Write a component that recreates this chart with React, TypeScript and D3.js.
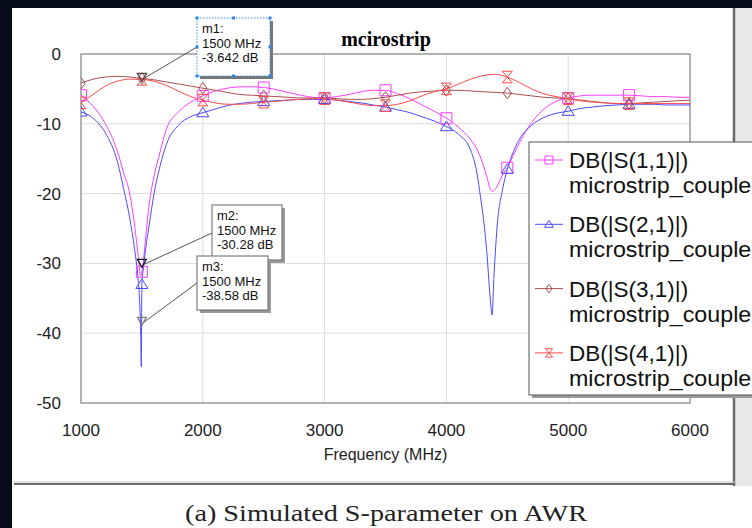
import React from "react";
import * as d3 from "d3";

const xTicks = [1000, 2000, 3000, 4000, 5000, 6000];
const yTicks = [0, -10, -20, -30, -40, -50];

const freqS11 = [1000,1100,1200,1300,1350,1400,1440,1470,1490,1500,1510,1530,1560,1600,1650,1700,1800,1900,2000,2100,2200,2300,2400,2500,2600,2700,2800,2900,3000,3100,3200,3300,3400,3500,3600,3700,3800,3900,4000,4100,4200,4250,4300,4330,4360,4380,4400,4430,4470,4500,4550,4600,4700,4800,4900,5000,5100,5200,5300,5400,5500,5600,5700,5800,5900,6000];
const s11 = [-5.9,-7.5,-10,-14,-17,-20,-24.5,-29,-31.8,-31.2,-30,-26.5,-21.5,-17.5,-14,-10.8,-8.3,-6.9,-6.0,-5.3,-4.9,-4.7,-4.7,-4.8,-5.1,-5.5,-5.9,-6.2,-6.3,-6.1,-5.8,-5.4,-5.2,-5.2,-5.7,-6.4,-7.3,-8.2,-9.2,-10.5,-12.3,-13.6,-15.8,-17.5,-19.3,-19.7,-19.4,-18.5,-17,-16.3,-14.5,-12.7,-9.8,-7.9,-6.8,-6.3,-6.0,-5.9,-5.9,-5.9,-5.9,-6.0,-6.1,-6.1,-6.2,-6.2];

const freqS21 = [1000,1100,1200,1300,1350,1400,1440,1470,1480,1490,1495,1500,1510,1530,1560,1600,1650,1700,1800,1900,2000,2100,2200,2300,2400,2500,2600,2700,2800,2900,3000,3100,3200,3300,3400,3500,3600,3700,3800,3900,4000,4100,4200,4250,4280,4300,4330,4360,4375,4390,4420,4460,4500,4550,4600,4700,4800,4900,5000,5100,5200,5300,5400,5500,5600,5700,5800,5900,6000];
const s21 = [-8.3,-9.2,-11.3,-15.5,-19.3,-23.5,-28,-32.5,-35,-40,-44.8,-33,-31,-28,-24.5,-20,-16,-13,-10.2,-9.0,-8.4,-7.9,-7.4,-7.1,-6.9,-6.8,-6.7,-6.6,-6.5,-6.5,-6.5,-6.6,-6.8,-7.0,-7.3,-7.6,-8.0,-8.4,-9.0,-9.6,-10.4,-11.5,-13.8,-17,-20.5,-23,-28,-35,-37.4,-32,-24,-19.5,-16.5,-14,-12.2,-10.2,-9.1,-8.5,-8.2,-7.8,-7.6,-7.4,-7.3,-7.2,-7.2,-7.2,-7.3,-7.3,-7.3];

const freqCoarse = [1000,1100,1200,1300,1400,1500,1600,1700,1800,1900,2000,2100,2200,2300,2400,2500,2600,2700,2800,2900,3000,3100,3200,3300,3400,3500,3600,3700,3800,3900,4000,4100,4200,4300,4400,4500,4600,4700,4800,4900,5000,5100,5200,5300,5400,5500,5600,5700,5800,5900,6000];
const s31 = [-4.2,-3.6,-3.3,-3.2,-3.3,-3.5,-3.7,-4.0,-4.3,-4.6,-4.9,-5.2,-5.5,-5.8,-5.9,-6.0,-6.1,-6.2,-6.3,-6.3,-6.3,-6.4,-6.5,-6.5,-6.4,-6.2,-5.9,-5.6,-5.4,-5.3,-5.2,-5.2,-5.3,-5.4,-5.5,-5.6,-5.8,-6.0,-6.2,-6.3,-6.4,-6.6,-6.8,-7.0,-7.1,-7.1,-7.0,-6.9,-6.8,-6.7,-6.6];
const s41 = [-7.0,-5.8,-4.6,-3.9,-3.6,-3.64,-3.9,-4.5,-5.3,-6.1,-6.6,-7.0,-7.2,-7.2,-7.1,-6.9,-6.8,-6.6,-6.5,-6.4,-6.4,-6.6,-6.9,-7.2,-7.4,-7.4,-7.2,-6.7,-6.0,-5.4,-5.0,-4.3,-3.6,-3.1,-2.9,-3.3,-4.1,-5.0,-5.7,-6.1,-6.4,-6.7,-6.9,-7.0,-7.1,-7.1,-7.1,-7.1,-7.1,-7.1,-7.1];

const markerFreqs = [1000,1500,2000,2500,3000,3500,4000,4500,5000,5500];

const seriesNames = ["DB(|S(1,1)|)", "DB(|S(2,1)|)", "DB(|S(3,1)|)", "DB(|S(4,1)|)"];
const seriesSub = "microstrip_coupler";
const seriesColors = ["#ff3cff", "#4a4aff", "#a8504e", "#ff4a4a"];
const seriesShapes = ["square", "triangle", "diamond", "bowtie"];

const markerNames = ["m1", "m2", "m3"];
const markerFreq = [1500, 1500, 1500];
const markerDb = [-3.642, -30.28, -38.58];

const W = 752, H = 528;
const PL = 81, PR = 690, PT = 54, PB = 403;

function shapePath(shape: string, x: number, y: number, s: number) {
  if (shape === "square") return `M${x - s},${y - s}H${x + s}V${y + s}H${x - s}Z`;
  if (shape === "triangle") return `M${x},${y - s}L${x + s * 1.1},${y + s * 0.75}H${x - s * 1.1}Z`;
  if (shape === "diamond") return `M${x},${y - s * 1.05}L${x + s * 0.75},${y}L${x},${y + s * 1.05}L${x - s * 0.75},${y}Z`;
  return `M${x - s * 0.9},${y - s * 1.05}H${x + s * 0.9}L${x - s * 0.9},${y + s * 1.05}H${x + s * 0.9}Z`;
}

export default function App() {
  const x = d3.scaleLinear().domain([1000, 6000]).range([PL, PR]);
  const y = d3.scaleLinear().domain([-50, 0]).range([PB, PT]);
  const line = d3
    .line<[number, number]>()
    .x((d) => x(d[0]))
    .y((d) => y(d[1]))
    .curve(d3.curveMonotoneX);

  const series: [number, number][][] = [
    freqS11.map((f, i) => [f, s11[i]]),
    freqS21.map((f, i) => [f, s21[i]]),
    freqCoarse.map((f, i) => [f, s31[i]]),
    freqCoarse.map((f, i) => [f, s41[i]]),
  ];

  const sans = "'Liberation Sans', Arial, sans-serif";
  const serif = "'Liberation Serif', 'Times New Roman', serif";

  const boxes = [
    { bx: 197, by: 18, bw: 73, bh: 58, lx: 197, ly: 47, selected: true },
    { bx: 212, by: 205, bw: 70, bh: 55, lx: 212, ly: 233, selected: false },
    { bx: 197, by: 256, bw: 71, bh: 54, lx: 197, ly: 283, selected: false },
  ];
  const mColors = ["#444", "#111", "#777"];

  const legendY0 = 160;
  const legendDy = 64.3;

  return (
    <svg width={W} height={H} style={{ position: "fixed", left: 0, top: 0 }}>
      <defs>
        <clipPath id="plotClip">
          <rect x={PL} y={PT} width={PR - PL} height={PB - PT} />
        </clipPath>
      </defs>
      <rect x={0} y={0} width={W} height={H} fill="#060b1a" />
      <rect x={12} y={8} width={W - 12} height={H - 8} fill="#ffffff" />
      {/* right grey strip and window frame */}
      <rect x={735} y={8} width={17} height={478} fill="#e8e8e8" />
      <line x1={734} y1={8} x2={734} y2={486} stroke="#6a6a6a" strokeWidth={2.5} />
      <line x1={14} y1={482} x2={735} y2={482} stroke="#c8c8c8" strokeWidth={1} />
      <line x1={14} y1={484} x2={735} y2={484} stroke="#6a6a6a" strokeWidth={2.2} />

      {/* title */}
      <text x={386} y={46} textAnchor="middle" fontFamily={serif} fontWeight="bold" fontSize={20} fill="#000">
        mcirostrip
      </text>

      {/* grid */}
      {xTicks.slice(1, -1).map((t) => (
        <line key={"gx" + t} x1={x(t)} x2={x(t)} y1={PT} y2={PB} stroke="#dcdcdc" strokeWidth={1} />
      ))}
      {yTicks.slice(1, -1).map((t) => (
        <line key={"gy" + t} x1={PL} x2={PR} y1={y(t)} y2={y(t)} stroke="#dcdcdc" strokeWidth={1} />
      ))}
      <rect x={PL} y={PT} width={PR - PL} height={PB - PT} fill="none" stroke="#9a9a9a" strokeWidth={1.5} />

      {/* tick labels */}
      {yTicks.map((t) => (
        <text key={"yl" + t} x={61} y={y(t) + 6} textAnchor="end" fontFamily={sans} fontSize={17} fill="#222">
          {t}
        </text>
      ))}
      {xTicks.map((t) => (
        <text key={"xl" + t} x={x(t)} y={436} textAnchor="middle" fontFamily={sans} fontSize={17} fill="#222">
          {t}
        </text>
      ))}
      <text x={(PL + PR) / 2} y={460} textAnchor="middle" fontFamily={sans} fontSize={16} fill="#222">
        Frequency (MHz)
      </text>

      {/* curves */}
      <g clipPath="url(#plotClip)">
        {series.map((s, i) => (
          <path key={"s" + i} d={line(s) || ""} fill="none" stroke={seriesColors[i]} strokeWidth={1} />
        ))}
        {series.map((s, i) =>
          markerFreqs.map((f) => {
            const p = s.find((d) => d[0] === f);
            if (!p) return null;
            return (
              <path
                key={"mk" + i + "-" + f}
                d={shapePath(seriesShapes[i], x(p[0]), y(p[1]), 5.5)}
                fill="none"
                stroke={seriesColors[i]}
                strokeWidth={1}
              />
            );
          })
        )}
      </g>

      {/* marker annotations */}
      {markerNames.map((m, i) => {
        const px = x(markerFreq[i]);
        const py = y(markerDb[i]);
        const b = boxes[i];
        return (
          <g key={m}>
            <line x1={b.lx} y1={b.ly} x2={px + 2} y2={py - 1} stroke="#555" strokeWidth={1} />
            <path d={`M${px - 4.5},${py - 6}H${px + 4.5}L${px},${py + 2}Z`} fill="none" stroke={mColors[i]} strokeWidth={1.2} />
            {!b.selected && <rect x={b.bx + 3} y={b.by + 3} width={b.bw} height={b.bh} fill="#9a9a9a" />}
            {b.selected && <rect x={b.bx + 3} y={b.by + 3} width={b.bw} height={b.bh} fill="#777" />}
            <rect x={b.bx} y={b.by} width={b.bw} height={b.bh} fill="#fff" stroke={b.selected ? "#3a8ee6" : "#666"} strokeWidth={1} strokeDasharray={b.selected ? "1.5,1.5" : undefined} />
            {b.selected &&
              [
                [0, 0], [0.5, 0], [1, 0], [0, 0.5], [1, 0.5], [0, 1], [0.5, 1], [1, 1],
              ].map(([u, v], k) => (
                <rect key={k} x={b.bx + u * b.bw - 1.5} y={b.by + v * b.bh - 1.5} width={3} height={3} fill="#2f86e0" />
              ))}
            <text fontFamily={sans} fontSize={13} fill="#111">
              <tspan x={b.bx + 5} y={b.by + 15}>{m}:</tspan>
              <tspan x={b.bx + 5} y={b.by + 29.5}>{markerFreq[i]} MHz</tspan>
              <tspan x={b.bx + 5} y={b.by + 44}>{markerDb[i]} dB</tspan>
            </text>
          </g>
        );
      })}

      {/* legend */}
      <rect x={532} y={145} width={240} height={253} fill="#9a9a9a" />
      <rect x={529} y={142} width={240} height={253} fill="#fff" stroke="#555" strokeWidth={1} />
      {seriesNames.map((n, i) => {
        const cy = legendY0 + i * legendDy;
        return (
          <g key={"lg" + i}>
            <line x1={535} x2={563} y1={cy} y2={cy} stroke={seriesColors[i]} strokeWidth={1} />
            <path d={shapePath(seriesShapes[i], 549, cy, 4)} fill="none" stroke={seriesColors[i]} strokeWidth={1} />
            <text x={569} y={cy + 8} fontFamily={sans} fontSize={22.5} fill="#111">{n}</text>
            <text x={569} y={cy + 33} fontFamily={sans} fontSize={22.5} fill="#111" textLength={190} lengthAdjust="spacingAndGlyphs">{seriesSub}</text>
          </g>
        );
      })}

      {/* caption */}
      <text x={185} y={521} fontFamily={serif} fontSize={24} fill="#222" textLength={402} lengthAdjust="spacingAndGlyphs">
        (a) Simulated S-parameter on AWR
      </text>
    </svg>
  );
}
